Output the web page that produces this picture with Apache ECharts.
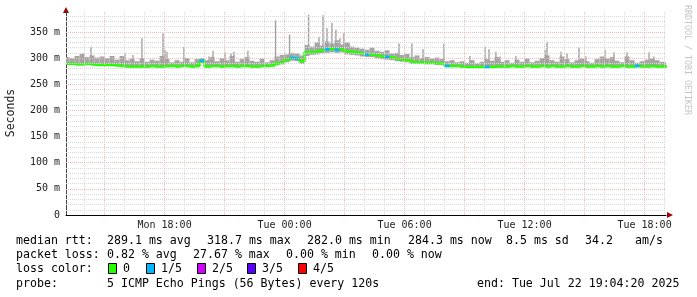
<!DOCTYPE html>
<html>
<head>
<meta charset="utf-8">
<script src="https://cdn.jsdelivr.net/npm/echarts@6/dist/echarts.min.js"></script>
<style>
  html, body { margin: 0; padding: 0; background: #fff; }
  #chart { width: 697px; height: 297px; }
</style>
</head>
<body>
<div id="chart"></div>
<script>
// samples: one every 15 min, hours counted from Mon 00:00
const startHour = 13.125;
const stepHours = 0.25;
const axisMin = 13.0722;
const axisMax = 43.0722;

const median = [
  289, 289, 288, 288, 289, 288, 287, 287, 287, 287,
  286, 285, 284, 284, 284, 284, 284, 285, 284, 284,
  285, 285, 284, 285, 285, 284, 285, 295, 284, 285,
  285, 284, 285, 285, 284, 285, 285, 284, 284, 285,
  285, 286, 290, 292, 297, 300, 299, 294, 311, 312,
  313, 315, 317, 318, 316, 317, 313, 312, 311, 309,
  307, 307, 305, 303, 302, 301, 298, 297, 296, 293,
  292, 292, 291, 291, 290, 290, 285, 285, 285, 284,
  283, 283, 283, 283, 283, 283, 284, 284, 284, 285,
  284, 284, 285, 284, 284, 285, 284, 285, 284, 284,
  285, 284, 284, 285, 284, 284, 285, 284, 285, 284,
  284, 285, 284, 284, 285, 284, 284, 285, 284, 284,
  284
];

// packets lost out of 5, per sample
const lossCount = [
  0, 0, 0, 0, 0, 0, 0, 0, 0, 0,
  0, 0, 0, 0, 0, 0, 0, 0, 0, 0,
  0, 0, 0, 0, 0, 0, 0, 1, 0, 0,
  0, 0, 0, 0, 0, 0, 0, 0, 0, 0,
  0, 0, 0, 0, 0, 1, 1, 0, 0, 0,
  0, 0, 1, 0, 1, 0, 0, 0, 0, 0,
  1, 0, 0, 0, 1, 0, 0, 0, 0, 0,
  0, 0, 0, 0, 0, 0, 1, 0, 0, 0,
  0, 0, 0, 0, 1, 0, 0, 0, 0, 0,
  0, 0, 0, 0, 0, 0, 0, 0, 0, 0,
  0, 0, 0, 0, 0, 0, 0, 0, 0, 0,
  0, 0, 0, 0, 1, 0, 0, 0, 0, 0,
  0
];

const smokeLo = [
  287, 287, 286, 286, 287, 286, 285, 285, 285, 285,
  284, 283, 282, 282, 282, 282, 282, 283, 282, 282,
  283, 283, 282, 283, 283, 282, 283, 290, 282, 283,
  283, 282, 283, 283, 282, 283, 283, 282, 282, 283,
  283, 284, 286, 288, 292, 295, 294, 289, 304, 306,
  307, 309, 310, 311, 310, 311, 307, 306, 305, 303,
  302, 302, 300, 298, 297, 296, 294, 293, 292, 289,
  289, 289, 288, 288, 287, 287, 283, 283, 283, 282,
  281, 281, 281, 281, 281, 281, 282, 282, 282, 283,
  282, 282, 283, 282, 282, 283, 282, 283, 282, 282,
  283, 282, 282, 283, 282, 282, 283, 282, 283, 282,
  282, 283, 282, 282, 283, 282, 282, 283, 282, 282,
  282
];

const smokeHi = [
  302, 300, 304, 308, 302, 305, 301, 303, 300, 304,
  297, 304, 296, 299, 294, 300, 293, 297, 295, 304,
  298, 292, 296, 293, 300, 292, 298, 300, 296, 302,
  294, 300, 296, 304, 293, 298, 302, 295, 293, 299,
  292, 296, 303, 306, 307, 310, 309, 305, 325, 322,
  330, 324, 332, 328, 334, 326, 330, 322, 320, 318,
  316, 320, 314, 312, 315, 309, 310, 306, 308, 302,
  305, 300, 302, 299, 301, 298, 294, 296, 292, 294,
  291, 296, 290, 293, 298, 295, 302, 293, 296, 291,
  297, 293, 299, 292, 295, 300, 305, 296, 293, 303,
  298, 292, 296, 299, 294, 291, 298, 303, 299, 302,
  295, 292, 303, 296, 291, 294, 297, 299, 296, 293,
  292
];

// single tall ping outliers
const spikeHours = [
  13.92, 14.32, 15.32, 16.02, 16.42, 16.87, 17.92, 18.02, 18.12, 18.97,
  20.22, 20.42, 21.02, 21.32, 21.47, 22.17, 23.55, 24.25, 25.20, 25.72,
  25.92, 26.12, 26.37, 26.57, 26.77, 26.97, 27.22, 29.72, 30.37, 30.92,
  31.97, 33.27, 34.02, 34.22, 34.57, 34.77, 35.57, 37.02, 37.12, 37.82,
  38.12, 38.72, 39.07, 40.02, 40.47, 41.12, 42.22, 42.47
];
const spikeTops = [
  309, 322, 303, 309, 306, 338, 347, 316, 312, 321,
  303, 314, 311, 309, 312, 314, 372, 345, 383, 341,
  382, 357, 367, 354, 338, 348, 328, 328, 328, 317,
  328, 304, 322, 317, 312, 303, 304, 316, 331, 312,
  309, 320, 303, 316, 311, 311, 311, 303
];
const spikeBase = [
  288, 288, 287, 285, 285, 285, 285, 285, 285, 285,
  285, 285, 285, 285, 285, 285, 286, 296, 306, 310,
  312, 312, 312, 312, 312, 310, 308, 296, 292, 290,
  288, 283, 283, 283, 283, 283, 284, 284, 284, 284,
  284, 284, 284, 284, 284, 284, 284, 284
];

const xTickHours = [18, 24, 30, 36, 42];
const xTickLabels = ['Mon 18:00', 'Tue 00:00', 'Tue 06:00', 'Tue 12:00', 'Tue 18:00'];

const lossLabels = ['0', '1/5', '2/5', '3/5', '4/5'];
const lossColors = ['#26ff00', '#00b8ff', '#d200ff', '#5a00ff', '#ff0000'];

const statLines = [
  [[16, 'median rtt:'], [107, '289.1 ms avg'], [207, '318.7 ms max'], [307, '282.0 ms min'],
   [408, '284.3 ms now'], [506, '8.5 ms sd'], [585, '34.2'], [635, 'am/s']],
  [[16, 'packet loss:'], [107, '0.82 % avg'], [193, '27.67 % max'], [286, '0.00 % min'],
   [372, '0.00 % now']],
  [[16, 'loss color:']],
  [[16, 'probe:'], [107, '5 ICMP Echo Pings (56 Bytes) every 120s'], [477, 'end: Tue Jul 22 19:04:20 2025']]
];
const statY = [241, 255, 269, 284];

const mono = 'DejaVu Sans Mono';
const times = median.map((v, i) => startHour + i * stepHours);

// grid lines like rrdtool: minor grey dots, major red dots
const gridLines = [];
for (let h = 14; h <= 43; h++) {
  const major = h % 3 === 0;
  gridLines.push({ xAxis: h, lineStyle: { color: major ? '#f3b6b6' : '#d8d8d8', type: [1, 1], width: 1 } });
}
for (let v = 10; v <= 380; v += 10) {
  const major = v % 50 === 0;
  gridLines.push({ yAxis: v, lineStyle: { color: major ? '#f3b6b6' : '#d8d8d8', type: [1, 1], width: 1 } });
}

const lossSeg = [];
median.forEach((v, i) => {
  if (lossCount[i] > 0) {
    lossSeg.push([times[i] - stepHours / 2, v], [times[i] + stepHours / 2, v], [times[i], null]);
  }
});

// rectangle from low to high value, for smoke bins and spikes
function bandItem(halfWidthHours, color) {
  return function (params, api) {
    const t = api.value(0);
    const p0 = api.coord([t - halfWidthHours, api.value(2)]);
    const p1 = api.coord([t + halfWidthHours, api.value(1)]);
    return {
      type: 'rect',
      shape: { x: p0[0], y: p0[1], width: Math.max(p1[0] - p0[0], 1), height: p1[1] - p0[1] },
      style: { fill: color }
    };
  };
}

const graphics = [];
statLines.forEach((line, li) => {
  line.forEach(([x, t]) => {
    graphics.push({ type: 'text', style: { x: x, y: statY[li], text: t, font: '11.6px ' + mono, fill: '#000', textVerticalAlign: 'middle' } });
  });
});
const lossBoxX = [108, 146, 197, 247, 298];
lossLabels.forEach((lab, i) => {
  graphics.push({ type: 'rect', shape: { x: lossBoxX[i] + 0.5, y: 263.5, width: 8, height: 10 }, style: { fill: lossColors[i], stroke: '#000', lineWidth: 1 } });
  graphics.push({ type: 'text', style: { x: lossBoxX[i] + 15, y: 269, text: lab, font: '11.6px ' + mono, fill: '#000', textVerticalAlign: 'middle' } });
});
graphics.push({ type: 'text', x: 11, y: 113, rotation: Math.PI / 2,
  style: { x: 0, y: 0, text: 'Seconds', font: '11.5px ' + mono, fill: '#222', textAlign: 'center', textVerticalAlign: 'middle' } });
graphics.push({ type: 'text', x: 687, y: 60, rotation: -Math.PI / 2,
  style: { x: 0, y: 0, text: 'RRDTOOL / TOBI OETIKER', font: '8.3px ' + mono, fill: '#c4c4c4', textAlign: 'center', textVerticalAlign: 'middle' } });
graphics.push({ type: 'polygon', shape: { points: [[667, 212], [673, 215], [667, 218]] }, style: { fill: '#a00000' } });
graphics.push({ type: 'polygon', shape: { points: [[63, 13], [66, 7], [69, 13]] }, style: { fill: '#a00000' } });

const chart = echarts.init(document.getElementById('chart'));
chart.setOption({
  backgroundColor: '#fff',
  animation: false,
  grid: { left: 66, right: 31, top: 11, bottom: 82 },
  xAxis: {
    type: 'value',
    min: axisMin,
    max: axisMax,
    splitLine: { show: false },
    axisTick: { show: false },
    axisLine: { lineStyle: { color: '#000', width: 1 } },
    axisLabel: {
      customValues: xTickHours,
      formatter: v => xTickLabels[xTickHours.indexOf(Math.round(v))],
      fontFamily: mono, fontSize: 10, color: '#222', margin: 5
    }
  },
  yAxis: {
    type: 'value',
    min: 0,
    max: 390,
    interval: 50,
    splitLine: { show: false },
    axisTick: { show: false },
    axisLine: { show: true, lineStyle: { color: '#444', width: 1 } },
    axisLabel: {
      showMaxLabel: false,
      formatter: v => (v === 0 ? '0' : v + ' m'),
      fontFamily: mono, fontSize: 10, color: '#222', margin: 6
    }
  },
  graphic: graphics,
  series: [
    {
      name: 'grid', type: 'line', symbol: 'none', silent: true, z: 1,
      lineStyle: { width: 0 },
      data: [[axisMin, 0]],
      markLine: { silent: true, symbol: ['none', 'none'], label: { show: false }, animation: false, data: gridLines }
    },
    {
      name: 'smoke', type: 'custom', clip: true, z: 2,
      renderItem: bandItem(stepHours / 2, '#a6a6a6'),
      encode: { x: 0, y: [1, 2] },
      data: times.map((t, i) => [t, smokeLo[i], smokeHi[i]])
    },
    {
      name: 'spike', type: 'custom', clip: true, z: 2,
      renderItem: bandItem(0.035, '#a0a0a0'),
      encode: { x: 0, y: [1, 2] },
      data: spikeHours.map((h, i) => [h, spikeBase[i], spikeTops[i]])
    },
    {
      name: 'median', type: 'line', step: 'middle', symbol: 'none', z: 3,
      lineStyle: { color: lossColors[0], width: 2.5 },
      data: times.map((t, i) => [t, median[i]])
    },
    {
      name: 'loss', type: 'line', symbol: 'none', z: 4, connectNulls: false,
      lineStyle: { color: lossColors[1], width: 2.5 },
      data: lossSeg
    }
  ]
});
</script>
</body>
</html>
